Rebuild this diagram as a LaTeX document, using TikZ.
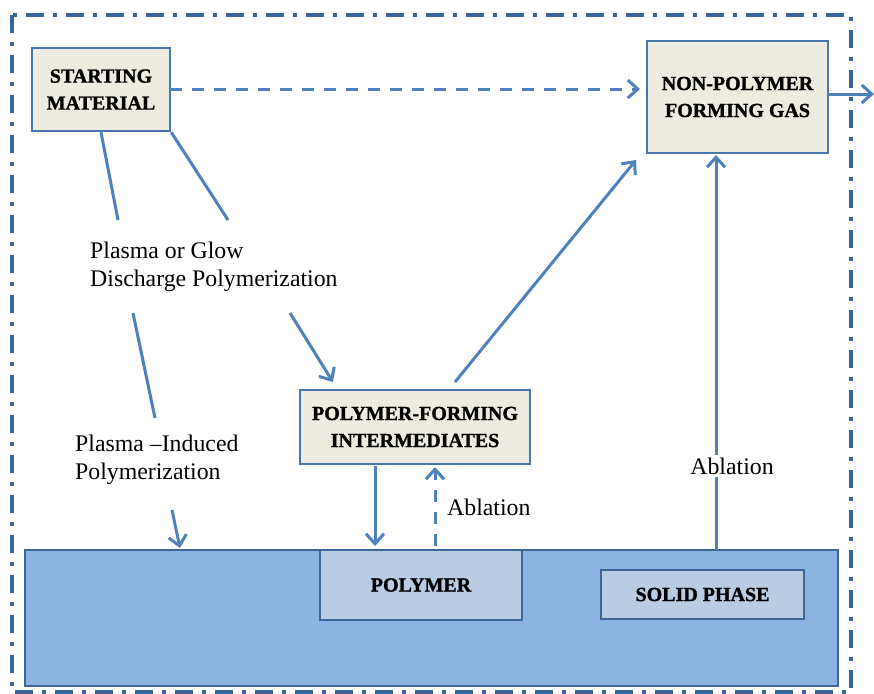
\documentclass[tikz,border=0pt]{standalone}
\usepackage{fontspec}
\setmainfont{Liberation Serif}[BoldFeatures={FakeBold=1.2}]
\usetikzlibrary{arrows.meta,calc}
\definecolor{bordr}{HTML}{3B6596}
\definecolor{arr}{HTML}{4F81BD}
\definecolor{boxline}{HTML}{4A76AE}
\definecolor{beige}{HTML}{EEECE1}
\definecolor{bigfill}{HTML}{8DB3E2}
\definecolor{lightfill}{HTML}{B8CCE4}
\definecolor{darkline}{HTML}{3D6799}
\tikzset{
  gbox/.style={draw=boxline, line width=2.5pt, fill=beige, align=center, inner sep=0pt,
    font=\fontsize{20}{27}\selectfont\bfseries},
  pbox/.style={draw=darkline, line width=2.2pt, fill=lightfill, align=center, inner sep=0pt,
    font=\fontsize{20}{27}\selectfont\bfseries},
  lbl/.style={align=left, inner sep=0pt, font=\fontsize{23.8}{28}\selectfont},
  conn/.style={draw=arr, line width=3pt},
  arrw/.style={conn, -{Straight Barb[length=10pt,width=18pt,line width=3pt]}},
  dsh/.style={dash pattern=on 12pt off 10pt},
}
\begin{document}
\begin{tikzpicture}[x=1pt,y=-1pt]
\useasboundingbox (0,0) rectangle (874,693);
% outer dash-dot frame
\draw[bordr, line width=4pt, dash pattern=on 18pt off 9pt on 4pt off 9pt]
  (12,15) rectangle (851,692);
% base
\node[draw=darkline, line width=2.2pt, fill=bigfill, minimum width=813pt, minimum height=136pt, inner sep=0pt]
  (base) at (431.5,618) {};
\node[pbox, minimum width=202pt, minimum height=70pt] (poly) at (421,585) {POLYMER};
\node[pbox, minimum width=203pt, minimum height=49pt] (solid) at (702.5,594.5) {SOLID PHASE};
% boxes
\node[gbox, minimum width=138pt, minimum height=83pt] (sm) at (101,89.5) {STARTING\\MATERIAL};
\node[gbox, minimum width=181pt, minimum height=112pt] (gas) at (737.5,97) {NON-POLYMER\\FORMING GAS};
\node[gbox, minimum width=230pt, minimum height=74pt] (pfi) at (415,427) {POLYMER-FORMING\\INTERMEDIATES};
% labels
\node[lbl, anchor=west] (pgd) at (90,267) {Plasma or Glow\\Discharge Polymerization};
\node[lbl, anchor=west] (pip) at (75,460) {Plasma –Induced\\Polymerization};
\node[lbl, anchor=west] (abl1) at (447,507) {Ablation};
% coordinates
\coordinate (c1) at (118,220);
\coordinate (c2) at (228,220);
\coordinate (c3) at (133,313);
\coordinate (c4) at (155,418);
\coordinate (c5) at (290,313);
\coordinate (c6) at (333,382);
\coordinate (c7) at (172,510);
\coordinate (c8) at (180,548);
\coordinate (c9) at (455,382);
\coordinate (c10) at (636,160);
\coordinate (d0) at (170,89);
\coordinate (d1) at (640,89);
\coordinate (o0) at (828,94);
\coordinate (out) at (874,94);
\coordinate (p0) at (375,466);
\coordinate (p1) at (375,546);
\coordinate (a0) at (435,546);
\coordinate (a1) at (435,467);
\coordinate (g0) at (716,550);
\coordinate (g1) at (716,155);
% connectors
\draw[arrw, dsh] (d0) -- (d1);
\draw[arrw] (o0) -- (out);
\draw[conn] (sm.south) -- (c1);
\draw[conn] (sm.south east) -- (c2);
\draw[conn] (c3) -- (c4);
\draw[arrw] (c5) -- (c6);
\draw[arrw] (c7) -- (c8);
\draw[arrw] (c9) -- (c10);
\draw[arrw] (p0) -- (p1);
\draw[arrw, dsh] (a0) -- (a1);
\draw[arrw] (g0) -- (g1);
\node[lbl, fill=white, inner sep=3pt] (abl2) at (732,466) {Ablation};
\end{tikzpicture}
\end{document}
